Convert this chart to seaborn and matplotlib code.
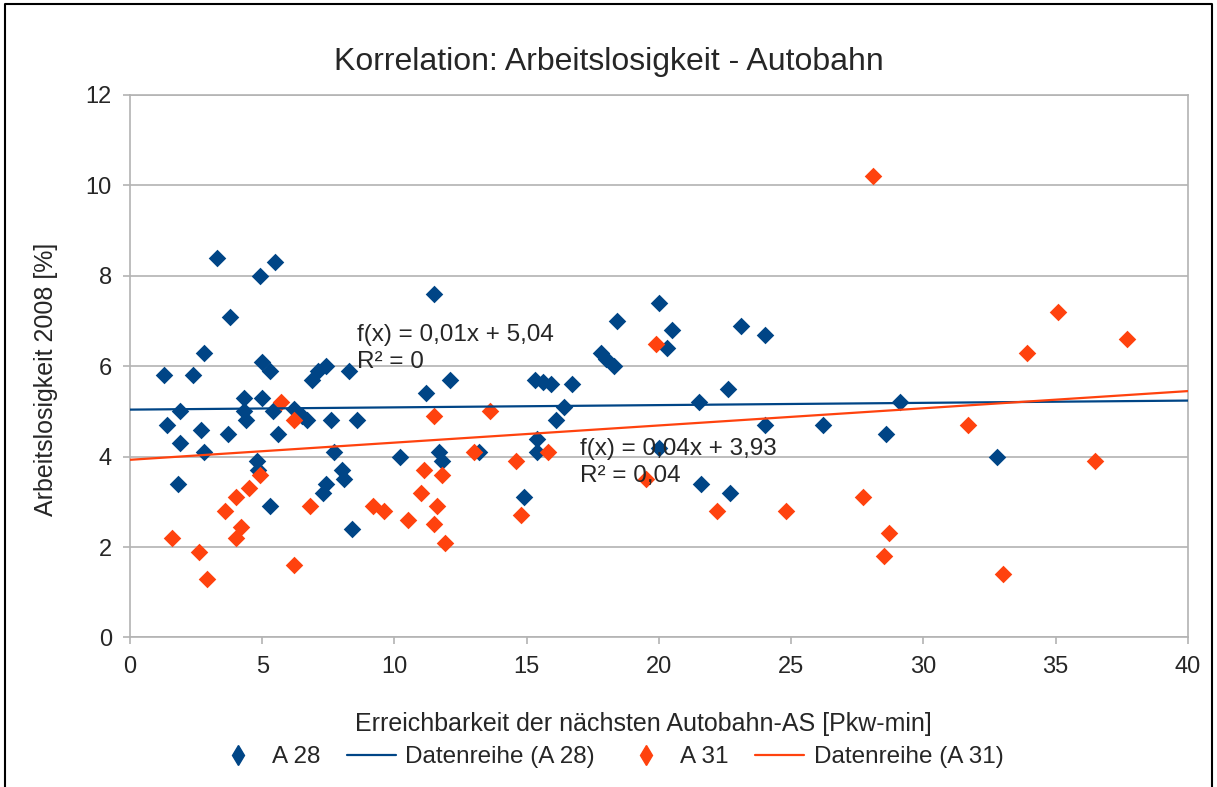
import numpy as np
import pandas as pd
import matplotlib
matplotlib.use("Agg")
import matplotlib.pyplot as plt
from matplotlib.lines import Line2D
import seaborn as sns

# values
a28_x = [1.3, 1.4, 1.9, 1.9, 1.8, 2.4, 2.7, 2.8, 2.8, 3.3, 3.7, 3.8, 4.3, 4.3, 4.4,
         4.9, 5.0, 5.3, 5.5, 5.0, 4.8, 4.85, 5.3, 5.6, 5.4, 6.2, 6.5, 6.7, 6.9, 7.1,
         7.4, 7.6, 7.7, 7.4, 7.3, 8.0, 8.1, 8.3, 8.4, 8.6, 10.2, 11.2, 11.5, 11.7, 11.8,
         12.1, 13.2, 14.9, 15.3, 15.6, 15.9, 16.7, 15.4, 15.4, 16.1, 16.4, 17.8, 18.0, 18.3,
         18.4, 20.0, 20.5, 20.3, 20.0, 21.5, 21.6, 22.6, 22.7, 23.1, 24.0, 24.0, 26.2, 28.6,
         29.1, 32.8]
a28_y = [5.8, 4.7, 5.0, 4.3, 3.4, 5.8, 4.6, 6.3, 4.1, 8.4, 4.5, 7.1, 5.3, 5.0, 4.8,
         8.0, 6.1, 5.9, 8.3, 5.3, 3.9, 3.7, 2.9, 4.5, 5.0, 5.05, 4.9, 4.8, 5.7, 5.9,
         6.0, 4.8, 4.1, 3.4, 3.2, 3.7, 3.5, 5.9, 2.4, 4.8, 4.0, 5.4, 7.6, 4.1, 3.9,
         5.7, 4.1, 3.1, 5.7, 5.65, 5.6, 5.6, 4.4, 4.1, 4.8, 5.1, 6.3, 6.15, 6.0,
         7.0, 7.4, 6.8, 6.4, 4.2, 5.2, 3.4, 5.5, 3.2, 6.9, 6.7, 4.7, 4.7, 4.5,
         5.2, 4.0]

a31_x = [1.6, 2.6, 2.9, 3.6, 4.0, 4.0, 4.2, 4.5, 4.9, 5.7, 6.2, 6.2, 6.8, 9.2, 9.6,
         10.5, 11.0, 11.1, 11.5, 11.6, 11.5, 11.8, 11.9, 13.0, 13.6, 14.6, 14.8, 15.8,
         19.5, 19.9, 22.2, 24.8, 27.7, 28.1, 28.5, 28.7, 31.7, 33.0, 33.9, 35.1, 36.5, 37.7]
a31_y = [2.2, 1.9, 1.3, 2.8, 3.1, 2.2, 2.45, 3.3, 3.6, 5.2, 4.8, 1.6, 2.9, 2.9, 2.8,
         2.6, 3.2, 3.7, 4.9, 2.9, 2.5, 3.6, 2.1, 4.1, 5.0, 3.9, 2.7, 4.1,
         3.5, 6.5, 2.8, 2.8, 3.1, 10.2, 1.8, 2.3, 4.7, 1.4, 6.3, 7.2, 3.9, 6.6]

# trend lines as shown in the chart
trend_a28 = (0.005, 5.04)
trend_a31 = (0.038, 3.93)
trend_range = [0, 40]

blue = "#004586"
red = "#ff420e"

sns.set_style("white")
plt.rcParams["font.family"] = ["Liberation Sans", "DejaVu Sans"]

fig = plt.figure(figsize=(12.17, 7.87), dpi=100)
ax = fig.add_axes([0.1068, 0.19, 0.8693, 0.6893])

df28 = pd.DataFrame({"x": a28_x, "y": a28_y})
df31 = pd.DataFrame({"x": a31_x, "y": a31_y})
sns.scatterplot(data=df28, x="x", y="y", marker="D", s=80, color=blue,
                linewidth=0, ax=ax, zorder=3)
sns.scatterplot(data=df31, x="x", y="y", marker="D", s=80, color=red,
                linewidth=0, ax=ax, zorder=3)

tx = np.array(trend_range, dtype=float)
sns.lineplot(x=tx, y=trend_a28[0] * tx + trend_a28[1], color=blue, lw=1.6, ax=ax, zorder=4)
sns.lineplot(x=tx, y=trend_a31[0] * tx + trend_a31[1], color=red, lw=1.6, ax=ax, zorder=4)

ax.text(8.58, 6.69, "f(x) = 0,01x + 5,04", fontsize=17.5, va="center", zorder=5)
ax.text(8.58, 6.09, "R² = 0", fontsize=17.5, va="center", zorder=5)
ax.text(17.0, 4.18, "f(x) = 0,04x + 3,93", fontsize=17.5, va="center", zorder=5)
ax.text(17.0, 3.58, "R² = 0,04", fontsize=17.5, va="center", zorder=5)

ax.set_xlim(0, 40)
ax.set_ylim(0, 12)
ax.set_xticks(range(0, 41, 5))
ax.set_yticks(range(0, 13, 2))
ax.yaxis.grid(True, color="#b3b3b3", lw=1.2)
ax.xaxis.grid(False)
for s in ax.spines.values():
    s.set_color("#b3b3b3")
    s.set_linewidth(1.2)
ax.tick_params(axis="both", length=5, width=1.2, color="#b3b3b3",
               labelsize=17, pad=8, direction="out", bottom=True, left=True)

ax.set_xlabel("Erreichbarkeit der nächsten Autobahn-AS [Pkw-min]", fontsize=18)
ax.xaxis.set_label_coords(0.485, -0.138)
ax.set_ylabel("Arbeitslosigkeit 2008 [%]", fontsize=18)
ax.yaxis.set_label_coords(-0.068, 0.475)
fig.suptitle("Korrelation: Arbeitslosigkeit - Autobahn", fontsize=23, x=0.5, y=0.921,
             va="center")

# legend: diamonds for the points, lines for the trends
handles = [
    Line2D([], [], ls="none", marker="d", ms=10, color=blue),
    Line2D([], [], color=blue, lw=1.6),
    Line2D([], [], ls="none", marker="d", ms=10, color=red),
    Line2D([], [], color=red, lw=1.6),
]
labels = ["A 28", "Datenreihe (A 28)", "A 31", "Datenreihe (A 31)"]
fig.legend(handles, labels, ncol=4, frameon=False, fontsize=17.5, loc="center",
           bbox_to_anchor=(0.5, 1 - 757 / 787), handlelength=2.0, columnspacing=1.1,
           handletextpad=0.4)

# black frame on left, top and right of the picture
fig.add_artist(Line2D([0.004, 0.004, 0.996, 0.996], [0.0, 0.995, 0.995, 0.0],
                      transform=fig.transFigure, color="black", lw=1.5))

fig.savefig("out.png", dpi=100)
